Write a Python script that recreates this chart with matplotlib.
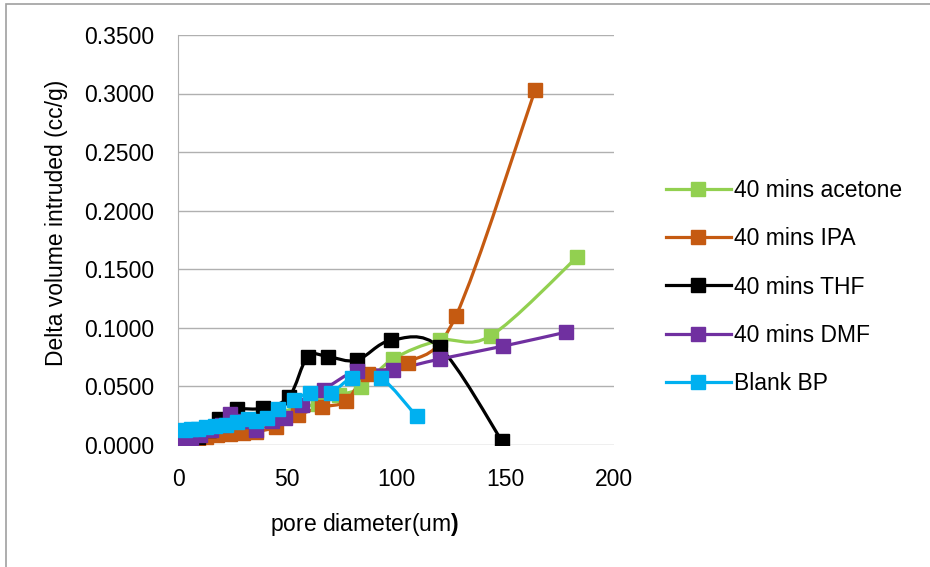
import matplotlib.pyplot as plt
import numpy as np
from matplotlib.path import Path
from matplotlib.patches import PathPatch, Rectangle
from matplotlib.lines import Line2D

# pore diameter (um) / delta volume intruded (cc/g) per sample
acetone_x = [4, 7, 10, 14, 19, 25, 31, 38, 46, 54, 64, 74, 84, 98.6, 120, 143.5, 183]
acetone_y = [0.004, 0.006, 0.008, 0.010, 0.012, 0.015, 0.018, 0.022, 0.027, 0.031, 0.035, 0.042, 0.049, 0.073, 0.089, 0.093, 0.160]

ipa_x = [3, 6, 9, 13, 18, 24, 30, 36, 45, 55, 66, 77, 87, 105.5, 127.5, 163.8]
ipa_y = [0.002, 0.003, 0.005, 0.006, 0.008, 0.009, 0.010, 0.011, 0.015, 0.025, 0.032, 0.037, 0.060, 0.070, 0.110, 0.303]

thf_x = [2, 5, 9, 14, 19, 27, 39, 51, 59.5, 69, 82, 97.7, 120, 148.6]
thf_y = [0.001, 0.002, 0.006, 0.012, 0.022, 0.030, 0.031, 0.041, 0.075, 0.075, 0.072, 0.089, 0.083, 0.003]

dmf_x = [2, 6, 10, 15, 20, 24, 30, 36, 43, 49, 57, 67, 82, 98.5, 120, 149, 178]
dmf_y = [0.002, 0.004, 0.008, 0.012, 0.017, 0.026, 0.020, 0.012, 0.020, 0.023, 0.034, 0.047, 0.063, 0.064, 0.073, 0.084, 0.096]

blank_x = [3, 6, 9, 13, 17, 22, 27, 32, 36, 41, 46, 53, 60.5, 70, 80, 93, 109.5]
blank_y = [0.012, 0.013, 0.013, 0.015, 0.016, 0.017, 0.019, 0.022, 0.020, 0.023, 0.030, 0.038, 0.044, 0.044, 0.057, 0.057, 0.024]

series = [
    ("40 mins acetone", acetone_x, acetone_y, "#92D050"),
    ("40 mins IPA", ipa_x, ipa_y, "#C55A11"),
    ("40 mins THF", thf_x, thf_y, "#000000"),
    ("40 mins DMF", dmf_x, dmf_y, "#7030A0"),
    ("Blank BP", blank_x, blank_y, "#00B0F0"),
]


def smooth_path(x, y):
    # excel-style smoothed line: bezier segments through the points
    p = np.column_stack([x, y]).astype(float)
    verts = [p[0]]
    codes = [Path.MOVETO]
    n = len(p)
    for i in range(n - 1):
        p0 = p[i - 1] if i > 0 else p[i]
        p3 = p[i + 2] if i + 2 < n else p[i + 1]
        c1 = p[i] + (p[i + 1] - p0) / 6
        c2 = p[i + 1] - (p3 - p[i]) / 6
        verts += [c1, c2, p[i + 1]]
        codes += [Path.CURVE4] * 3
    return Path(verts, codes)


plt.rcParams['font.family'] = ['Liberation Sans', 'DejaVu Sans']
plt.rcParams['mathtext.fontset'] = 'custom'
plt.rcParams['mathtext.rm'] = 'Liberation Sans'
plt.rcParams['mathtext.bf'] = 'Liberation Sans:bold'
fs = 16.5

fig = plt.figure(figsize=(9.3, 5.67), dpi=100)
ax = fig.add_axes([178 / 930, 1 - 444.5 / 567, 436 / 930, 409.5 / 567])

handles = []
for name, x, y, col in series:
    patch = PathPatch(smooth_path(x, y), facecolor='none', edgecolor=col, lw=2.3, zorder=3)
    ax.add_patch(patch)
    ax.plot(x, y, ls='none', marker='s', ms=10, color=col, zorder=4)
    handles.append(Line2D([], [], color=col, lw=2.3, marker='s', ms=10))

ax.set_xlim(0, 200)
ax.set_ylim(0, 0.35)
ax.set_xticks([0, 50, 100, 150, 200])
ax.set_yticks(np.arange(0, 0.351, 0.05))
ax.yaxis.set_major_formatter(plt.FormatStrFormatter('%.4f'))
ax.grid(axis='y', color='#b0b0b0', lw=1)
ax.set_axisbelow(True)
for s in ['top', 'right', 'bottom']:
    ax.spines[s].set_visible(False)
ax.spines['left'].set_color('#b0b0b0')
ax.tick_params(length=0, labelsize=fs)
ax.tick_params(axis='y', pad=17)
ax.tick_params(axis='x', pad=17)

fig.text(57 / 930, 1 - 223 / 567, 'Delta volume intruded (cc/g)', fontsize=fs,
         rotation=90, ha='center', va='center')
fig.text(270 / 930, 1 - 524 / 567, r'pore diameter(um$\mathbf{)}$', fontsize=fs,
         ha='left', va='center')

fig.legend(handles, [s[0] for s in series], loc='center left',
           bbox_to_anchor=(645 / 930, 1 - 287 / 567), frameon=False,
           fontsize=fs, handlelength=2.85, labelspacing=1.1, handletextpad=0.15)

fig.patches.append(Rectangle((6 / 930, -0.1), 1.2, 1.1 - 4 / 567,
                             transform=fig.transFigure, fill=False,
                             edgecolor='#a0a0a0', lw=1.2))

fig.savefig('out.png', dpi=100)
